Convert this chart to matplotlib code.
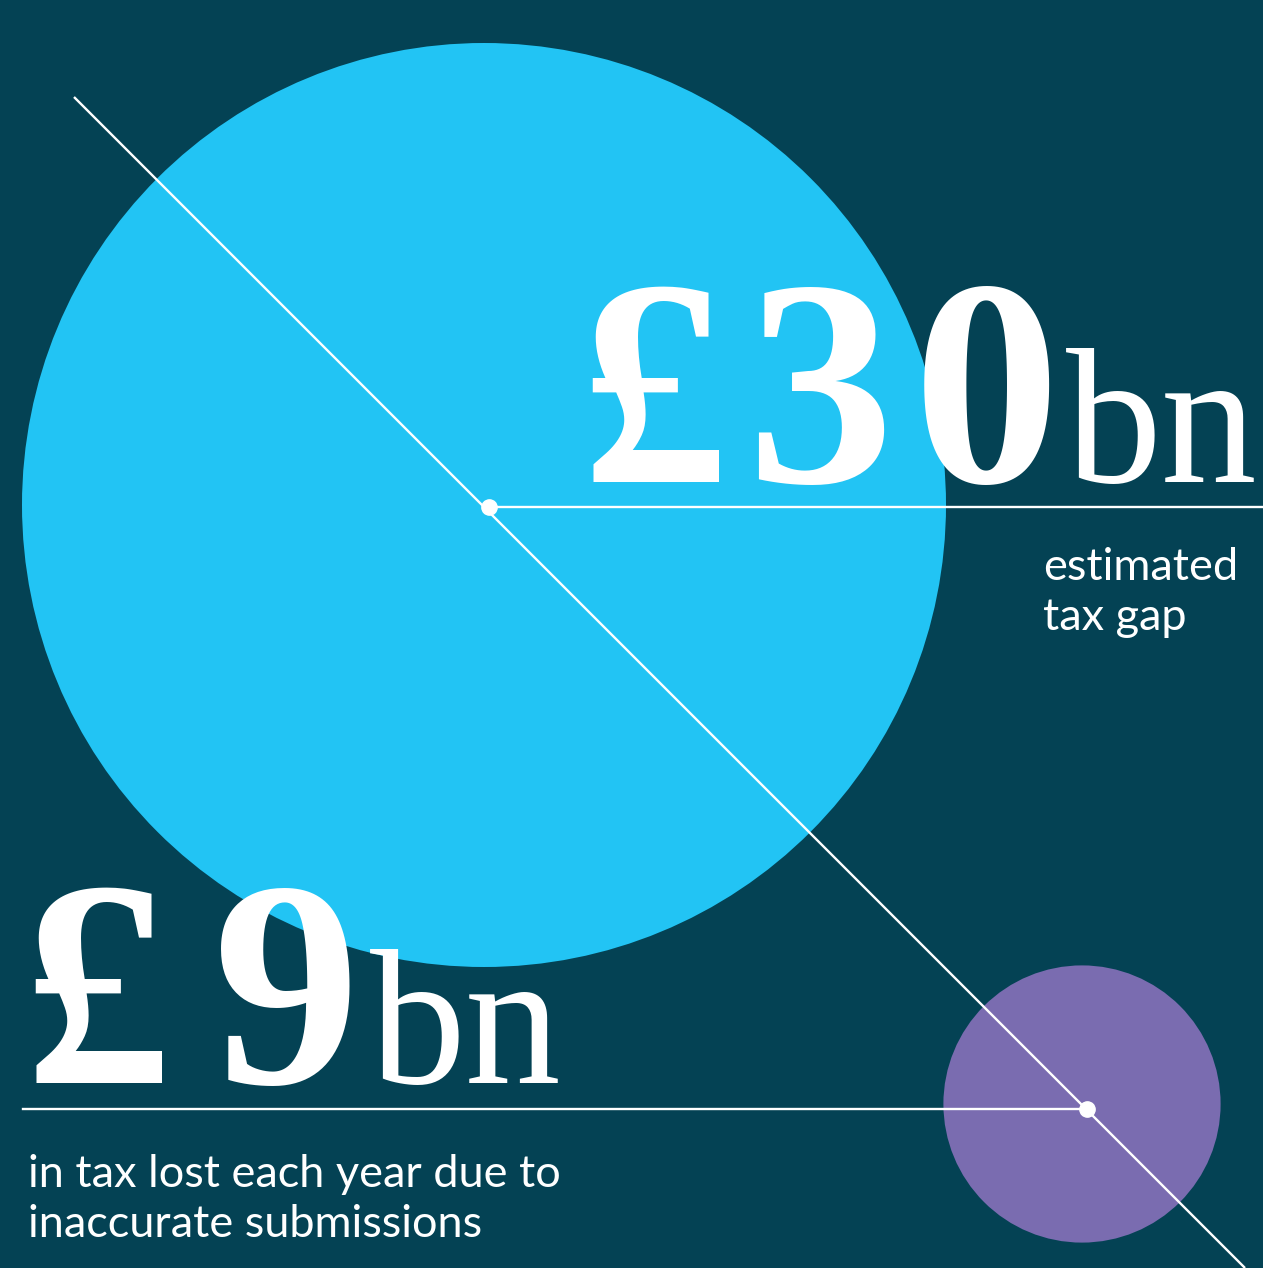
import matplotlib
matplotlib.use("Agg")
import matplotlib.pyplot as plt
from matplotlib.patches import Circle

# ---- data ----
values = [30, 9]
amount_labels = ["£30", "£9"]
unit_labels = ["bn", "bn"]
captions = ["estimated\ntax gap", "in tax lost each year due to\ninaccurate submissions"]

# ---- style ----
BG = "#044254"
CYAN = "#22C4F4"
PURPLE = "#7A6CB0"
WHITE = "white"

W, H = 1263, 1268
fig = plt.figure(figsize=(W / 100, H / 100), dpi=100, facecolor=BG)
ax = fig.add_axes([0, 0, 1, 1])
ax.set_xlim(0, W)
ax.set_ylim(H, 0)
ax.set_aspect("equal")
ax.axis("off")
ax.set_facecolor(BG)
renderer = fig.canvas.get_renderer()

scale = 15.4  # px radius per £bn
centers = [(484, 505), (1082, 1104)]
colors = [CYAN, PURPLE]
for (cx, cy), v, c in zip(centers, values, colors):
    ax.add_patch(Circle((cx, cy), v * scale, facecolor=c, edgecolor="none", zorder=1))

dots = [(489, 507), (1087, 1109)]
ax.plot([74, 1245], [97, 1268], color=WHITE, lw=1.7, zorder=3, solid_capstyle="butt")
ax.plot([dots[0][0], W], [dots[0][1], dots[0][1]], color=WHITE, lw=1.7, zorder=3)
ax.plot([23, dots[1][0]], [dots[1][1], dots[1][1]], color=WHITE, lw=1.7, zorder=3)
for x, y in dots:
    ax.plot(x, y, "o", color=WHITE, ms=11, zorder=4)

serif = ["Liberation Serif", "DejaVu Serif"]
sans = ["Lato", "DejaVu Sans"]


def spread(x0, x1, y, s, **kw):
    """Draw string s char by char, spread evenly to span x0..x1."""
    texts = [ax.text(0, y, ch, ha="left", va="baseline", **kw) for ch in s]
    widths = [t.get_window_extent(renderer).width for t in texts]
    gap = ((x1 - x0) - sum(widths)) / max(len(s) - 1, 1)
    x = x0
    for t, w in zip(texts, widths):
        t.set_x(x)
        x += w + gap


num_kw = dict(family=serif, weight="bold", fontsize=212, color=WHITE, zorder=5)
unit_kw = dict(family=serif, weight="normal", fontsize=138, color=WHITE, zorder=5)

# £30bn
spread(580, 1060, 482, amount_labels[0], **num_kw)
ax.text(1066, 482, unit_labels[0], ha="left", va="baseline", **unit_kw)
# £9bn
spread(23, 360, 1083, amount_labels[1], **num_kw)
ax.text(370, 1083, unit_labels[1], ha="left", va="baseline", **unit_kw)

# captions (va='baseline' anchors the last line)
cap_kw = dict(family=sans, weight="normal", fontsize=32.5, color=WHITE,
              ha="left", va="baseline", linespacing=1.28, zorder=5)
ax.text(1043, 630, captions[0], **cap_kw)
ax.text(28, 1237, captions[1], **cap_kw)

fig.savefig("out.png", dpi=100, facecolor=BG)
